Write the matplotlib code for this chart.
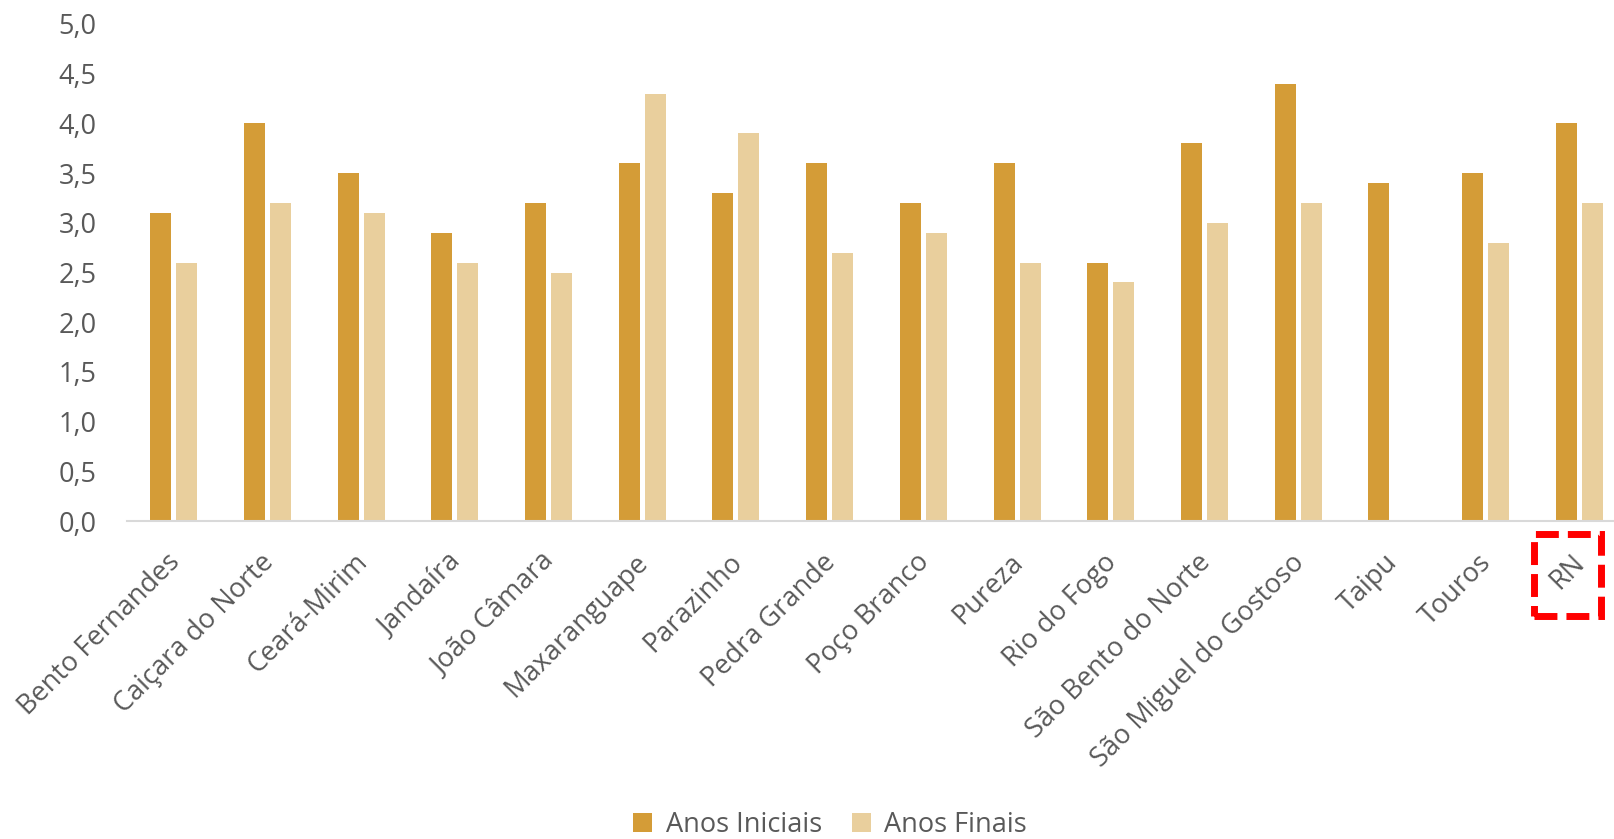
import numpy as np
import matplotlib
matplotlib.use('Agg')
from matplotlib import pyplot as plt
from matplotlib.patches import Rectangle
import matplotlib.transforms as mtransforms

municipios = ['Bento Fernandes', 'Caiçara do Norte', 'Ceará-Mirim', 'Jandaíra', 'João Câmara',
              'Maxaranguape', 'Parazinho', 'Pedra Grande', 'Poço Branco', 'Pureza', 'Rio do Fogo',
              'São Bento do Norte', 'São Miguel do Gostoso', 'Taipu', 'Touros', 'RN']
anos_iniciais = [3.1, 4.0, 3.5, 2.9, 3.2, 3.6, 3.3, 3.6, 3.2, 3.6, 2.6, 3.8, 4.4, 3.4, 3.5, 4.0]
anos_finais = [2.6, 3.2, 3.1, 2.6, 2.5, 4.3, 3.9, 2.7, 2.9, 2.6, 2.4, 3.0, 3.2, np.nan, 2.8, 3.2]
yticks = [0.0, 0.5, 1.0, 1.5, 2.0, 2.5, 3.0, 3.5, 4.0, 4.5, 5.0]

cor_ini = '#D49C37'
cor_fin = '#E9CF9D'
cinza = '#595959'

plt.rcParams['font.family'] = ['Open Sans', 'DejaVu Sans']

W, H = 1615, 839
fig = plt.figure(figsize=(W / 100, H / 100), dpi=100)
# eixo: x de 127 a 1626 px, y de 521 (zero) a 24 (5,0)
ax = fig.add_axes([127 / W, 1 - 521 / H, (1626 - 127) / W, (521 - 24) / H])

x = np.arange(len(municipios))
w = 0.224
ax.bar(x - 0.139, anos_iniciais, w, color=cor_ini, label='Anos Iniciais')
ax.bar(x + 0.139, anos_finais, w, color=cor_fin, label='Anos Finais')

ax.set_xlim(-0.5, len(municipios) - 0.5)
ax.set_ylim(0, 5)
ax.set_yticks(yticks)
ax.set_yticklabels([f'{v:.1f}'.replace('.', ',') for v in yticks], fontsize=19.5, color=cinza)
ax.set_xticks(x)
ax.set_xticklabels(municipios, rotation=45, ha='right', rotation_mode='anchor',
                   fontsize=19.5, color=cinza)
ax.tick_params(axis='both', length=0)
ax.tick_params(axis='y', pad=22)
ax.tick_params(axis='x', pad=14)
for s in ['top', 'right', 'left']:
    ax.spines[s].set_visible(False)
ax.spines['bottom'].set_color('#D9D9D9')
ax.spines['bottom'].set_linewidth(1.5)

# desloca os rótulos um pouco para baixo e à esquerda
desloc = mtransforms.ScaledTranslation(-8 / 100, -8 / 100, fig.dpi_scale_trans)
for t in ax.get_xticklabels():
    t.set_transform(t.get_transform() + desloc)

fig.legend(loc='center', bbox_to_anchor=(0.514, 1 - 825 / H), ncol=2, frameon=False,
           fontsize=19.5, labelcolor=cinza, handlelength=0.7, handleheight=0.7,
           columnspacing=1.1, handletextpad=0.5)

# destaque no RN
fig.canvas.draw()
lbl = ax.get_xticklabels()[-1]
bb = lbl.get_window_extent()
bw, bh = 67, 82
cx, cy = (bb.x0 + bb.x1) / 2, (bb.y0 + bb.y1) / 2 - 4
rect = Rectangle((cx - bw / 2, cy - bh / 2), bw, bh,
                 transform=None, fill=False, edgecolor='red', linewidth=5,
                 linestyle=(0, (3.3, 1.3)), joinstyle='miter')
fig.patches.append(rect)

plt.savefig('out.png', dpi=100)
